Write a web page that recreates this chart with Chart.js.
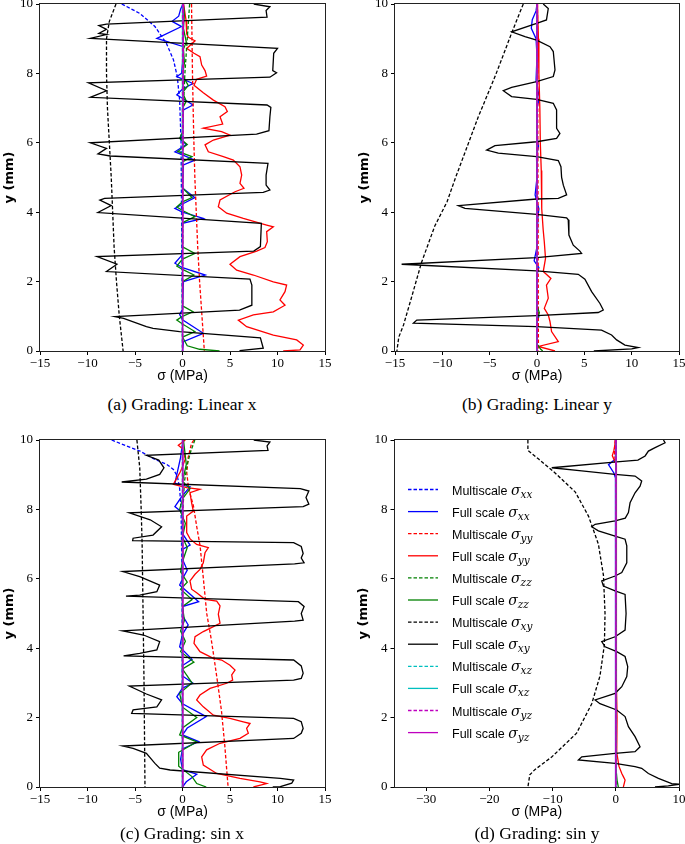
<!DOCTYPE html>
<html>
<head>
<meta charset="utf-8">
<script src="https://cdn.jsdelivr.net/npm/chart.js@4.4.0/dist/chart.umd.min.js"></script>
<style>
  html, body { margin: 0; padding: 0; background: #fff; }
  body { width: 685px; height: 844px; position: relative; overflow: hidden; }
  canvas { position: absolute; }
  .cap { position: absolute; width: 300px; text-align: center; white-space: nowrap;
         font-family: "Liberation Serif", serif; font-size: 17.5px; line-height: 20px; color: #000; }
</style>
</head>
<body>
<canvas id="panelA" width="340" height="390" style="left:0px;top:0px"></canvas>
<canvas id="panelB" width="340" height="390" style="left:345px;top:0px"></canvas>
<canvas id="panelC" width="340" height="406" style="left:0px;top:420px"></canvas>
<canvas id="panelD" width="340" height="406" style="left:345px;top:420px"></canvas>
<div class="cap" style="left:32px;top:394px">(a) Grading: Linear x</div>
<div class="cap" style="left:387px;top:394px">(b) Grading: Linear y</div>
<div class="cap" style="left:32px;top:823px">(c) Grading: sin x</div>
<div class="cap" style="left:387px;top:823px">(d) Grading: sin y</div>
<script>
  // tick values
  var yTicks = [0, 2, 4, 6, 8, 10];
  var xTicksLin = [-15, -10, -5, 0, 5, 10, 15];
  var xTicksSinY = [-30, -20, -10, 0, 10];

  // stress components, in plotting order
  var comps = ['xx', 'yy', 'zz', 'xy', 'xz', 'yz'];
  var compColors = ['#0000ff', '#ff0000', '#008000', '#000000', '#00bfbf', '#bf00bf'];

  // every point is [sigma (MPa), y (mm)]

  // (a) Grading: Linear x
  var aMultiXX = [[-6.4,10],[-4.5,9.73],[-2.9,9.35],[-1.7,8.87],[-0.95,8.39],[-0.55,7.91],[-0.3,7.23],[-0.15,6],[-0.1,4],[-0.05,2],[0,0]];
  var aFullXX = [[0.05,10],[-0.2,9.85],[-0.4,9.65],[-1.1,9.5],[-0.1,9.35],[-2.7,9.01],[0.1,8.77],[0,8.3],[-0.1,8],[-0.6,7.91],[1.1,7.71],[0,7.55],[-0.6,7.38],[-0.1,7.3],[1.1,7.09],[0.1,6.95],[0,6.3],[-0.2,6.1],[0.4,5.95],[-0.8,5.74],[0,5.65],[1.3,5.5],[0.1,5.36],[0,4.7],[1.3,4.42],[0.1,4.25],[-0.8,4.11],[0,4],[2.2,3.82],[0,3.68],[0,2.9],[-0.1,2.75],[-0.8,2.53],[0,2.4],[2.4,2.19],[0.1,2],[0,1.2],[-0.3,1.05],[0,0.9],[2.2,0.51],[0.1,0.27],[0,0]];
  var aMultiYY = [[0.95,10],[1,9],[1.05,8],[1.12,7],[1.2,6],[1.3,5],[1.45,4],[1.6,3],[1.8,2],[2.05,1],[2.3,0]];
  var aFullYY = [[0.1,10],[0.16,9.92],[0.37,9.54],[0.44,9.15],[0.61,9.04],[1.32,8.94],[0.44,8.72],[1.21,8.58],[1.84,8.48],[2.02,8.24],[2.37,8.08],[2.54,7.92],[1.49,7.83],[1.21,7.66],[2.19,7.44],[3.25,7.23],[4.47,7.04],[4.72,6.9],[3.95,6.75],[4.23,6.54],[2.19,6.42],[4.12,6.32],[5,6.22],[3.25,6.08],[2.37,5.94],[2.72,5.74],[4.3,5.6],[5.35,5.5],[6.05,5.31],[6.23,5.07],[6.05,4.83],[6.47,4.69],[5.53,4.59],[3.95,4.35],[3.77,4.16],[4.65,3.97],[6.4,3.82],[8.86,3.63],[9.56,3.58],[8.86,3.44],[8.93,3.15],[8.68,2.98],[7.81,2.88],[6.05,2.72],[5,2.5],[5.7,2.33],[7.46,2.19],[9.56,1.99],[10.96,1.9],[10.79,1.71],[10.26,1.47],[10.79,1.32],[9.56,1.13],[7.46,1.04],[5.88,0.89],[6.75,0.7],[9.56,0.46],[12.02,0.32],[12.72,0.17],[12.37,0.03],[10.6,0]];
  var aMultiZZ = [[0.75,10],[0.5,9],[0.25,8],[0.1,7],[0.03,6],[0,0]];
  var aFullZZ = [[0.1,10],[0.2,9.7],[0.1,9.3],[0.4,8.9],[0.1,8.7],[0.2,8.3],[0,7.95],[0.6,7.65],[0,7.45],[0.4,7.2],[0,7],[0,6.3],[-0.3,6.13],[0.5,5.95],[-0.5,5.75],[1,5.6],[0,5.45],[0,4.7],[1,4.42],[0,4.3],[-0.6,4.15],[0,4.05],[1.3,3.87],[0,3.7],[0,3],[1.3,2.81],[0,2.65],[-0.6,2.45],[0,2.35],[1.2,2.19],[0,2],[0,1.3],[1.1,1.13],[0,1],[-0.6,0.89],[0,0.78],[1.3,0.56],[0,0.4],[0.5,0.15],[1.8,0.05],[3.9,0]];
  var aMultiXY = [[-7,10],[-7.7,9.5],[-8,9],[-8,8],[-7.9,7],[-7.7,6],[-7.5,5],[-7.35,4],[-7.2,3],[-6.95,2],[-6.65,1],[-6.25,0]];
  var aFullXY = [[7.5,10],[9.2,9.92],[8.8,9.81],[8.9,9.62],[-8,9.42],[-8.8,9.38],[-8,9.27],[-8.8,9.15],[-8,9.12],[-9.7,9.01],[10,8.72],[9.6,8.58],[9.5,8.08],[9.9,8.02],[9.2,7.89],[-9.9,7.73],[-8,7.5],[-9.7,7.31],[8.9,7.09],[9.3,7.02],[9.2,6.75],[9.1,6.35],[7.8,6.25],[-9.7,6],[-8,5.84],[-8.9,5.68],[-7.6,5.62],[9,5.41],[8.8,5.07],[8.8,4.78],[9.2,4.64],[8.5,4.57],[-8.2,4.4],[-8.7,4.35],[-7.5,4.19],[-8.9,3.99],[8.3,3.68],[8.2,3.01],[7.5,2.88],[-9,2.72],[-6.9,2.5],[-8,2.29],[7.1,2.07],[7.3,1.9],[7.3,1.32],[6,1.18],[-7.1,0.99],[-6.2,0.94],[-3.8,0.7],[-3.1,0.65],[-0.3,0.56],[8.2,0.38],[8.5,0.08],[6,0.01]];
  var aMultiXZ = [[0,10],[0,0]];
  var aFullXZ = [[0,10],[0,0]];
  var aMultiYZ = [[0.02,10],[0,0]];
  var aFullYZ = [[0.1,10],[0.05,5],[0.02,0]];

  // (b) Grading: Linear y
  var bMultiXX = [[0,10],[0,0]];
  var bFullXX = [[0,10],[-0.1,9.8],[-0.5,9.55],[-0.6,9.3],[-0.1,9],[0,8.5],[-0.1,7.8],[0.25,7.3],[0,7],[0,6.2],[0.15,5.9],[-0.05,5.6],[0,5],[-0.2,4.5],[0.2,4.1],[0.1,3.85],[0,3],[-0.3,2.6],[0.2,2.4],[0,2.2],[0,1.2],[0.2,1],[0,0.8],[0,0]];
  var bMultiYY = [[0.05,10],[0.1,5],[0.15,0]];
  var bFullYY = [[0.05,10],[0.15,9],[0.2,8],[0.3,7],[0.35,6],[0.45,5.2],[0.5,4.5],[0.5,4.1],[0.65,3.5],[0.77,3.15],[0.9,2.67],[0.66,2.29],[1.47,2.09],[1,1.9],[1.19,1.52],[0.77,1.23],[1.19,1.04],[1.37,0.85],[1.54,0.56],[2.25,0.27],[0.14,0.13],[1.9,0]];
  var bMultiZZ = [[0,10],[0,0]];
  var bFullZZ = [[0,10],[0,1.3],[0.25,1.1],[0,0.9],[0,0.2],[0.4,0.05],[0.6,0]];
  var bMultiXY = [[-1.45,10],[-2.7,9.15],[-3.6,8.5],[-4.45,7.9],[-6.2,6.75],[-7.5,5.8],[-8.6,5],[-9.5,4.3],[-10.8,3.6],[-12.2,2.55],[-13.3,1.5],[-14.1,0.75],[-14.6,0.4],[-14.8,0]];
  var bFullXY = [[0.66,10],[1.19,9.87],[1,9.54],[-0.04,9.44],[-2.68,9.2],[-1.27,9.06],[-0.04,8.96],[1.37,8.77],[1.72,8.63],[1.9,8.1],[1.72,7.91],[-0.04,7.76],[-2.68,7.6],[-3.56,7.5],[-2.68,7.33],[-0.04,7.25],[1.72,7.14],[2.07,6.95],[2.07,6.42],[2.42,6.27],[2.07,6.13],[-0.04,6.03],[-4.44,5.92],[-5.32,5.79],[-4.09,5.7],[-0.04,5.6],[2.25,5.49],[2.53,5.31],[2.6,5],[2.78,4.78],[3.13,4.5],[2.25,4.4],[-0.04,4.38],[-8.31,4.19],[-7.61,4.11],[-0.04,3.94],[3.13,3.84],[3.3,3.78],[3.37,3.34],[3.83,3.05],[4.53,2.88],[4.71,2.81],[-0.04,2.69],[-14.3,2.5],[-0.04,2.31],[4.36,2.21],[5.06,2.07],[5.77,1.71],[6.65,1.37],[7,1.18],[6.47,1.11],[-0.04,1.02],[-12.7,0.89],[-13.06,0.8],[-0.04,0.7],[6.82,0.6],[7.88,0.46],[8.41,0.32],[9.29,0.17],[10.7,0.1],[10,0.06],[6,0]];
  var bMultiXZ = [[0,10],[0,0]];
  var bFullXZ = [[0,10],[0,0]];
  var bMultiYZ = [[0,10],[0,0]];
  var bFullYZ = [[0.02,10],[0,0]];

  // (c) Grading: sin x
  var cMultiXX = [[-7.46,10],[-5.88,9.83],[-4.47,9.68],[-2.9,9.44],[-1.67,9.3],[-0.96,9.15],[-0.54,8.96],[-0.3,8.6],[-0.15,8],[-0.05,6],[0,0]];
  var cFullXX = [[0.05,10],[-0.2,9.5],[-0.8,8.75],[0.8,8.65],[0,8.4],[-0.8,8.08],[0,7.9],[0,7.3],[0.8,6.97],[0,6.85],[0.1,6.5],[0.5,6.25],[0,6],[-0.3,5.82],[1.7,5.34],[0,5.2],[0.1,4.9],[0.6,4.67],[0,4.4],[-0.3,4.04],[1,3.68],[0,3.5],[0,3.2],[1.1,2.99],[0,2.85],[-0.6,2.6],[0,2.4],[2.5,2.03],[0.5,1.7],[0,1.5],[1.7,1.31],[0,1.1],[-0.2,0.8],[0,0.5],[1.5,0.37],[0.4,0.15],[0,0]];
  var cMultiYY = [[1.2,10],[0.95,9.9],[0.6,9.5],[0.45,9.05],[0.6,8.7],[0.8,8.45],[1.15,8.1],[1.5,7.5],[1.85,6.95],[2.2,6],[2.55,5],[3,4.3],[3.25,3.85],[3.7,3],[4.1,2.2],[4.45,1.2],[4.8,0]];
  var cFullYY = [[0.3,10],[-0.44,9.85],[0,9.75],[0.3,9.45],[-0.2,9.1],[-0.96,8.72],[0.44,8.63],[1.84,8.58],[0.79,8.48],[0.96,8.19],[1.14,7.95],[0.44,7.81],[0.44,7.33],[0.8,7.15],[1.49,6.99],[2.72,6.9],[2.37,6.75],[2.19,6.46],[1.84,6.27],[1.32,6.13],[0.79,5.94],[0.96,5.7],[1.49,5.6],[2.37,5.41],[3.6,5.36],[3.95,5.22],[3.77,4.98],[3.95,4.72],[3.25,4.62],[2.19,4.48],[1.32,4.33],[1.21,4.14],[1.84,3.9],[3.25,3.71],[4.12,3.66],[5,3.51],[5.53,3.37],[5.18,3.23],[5.28,3.08],[4.65,2.99],[2.9,2.84],[1.84,2.65],[1.49,2.51],[2.19,2.31],[3.25,2.07],[5,1.98],[6.4,1.88],[7.11,1.83],[6.75,1.69],[6.93,1.55],[6.05,1.4],[3.95,1.26],[2.54,1.07],[2.02,0.87],[2.19,0.63],[3.6,0.39],[6.05,0.25],[8.16,0.15],[8.86,0.1],[7.46,0]];
  var cMultiZZ = [[1.3,10],[0.9,9.7],[0.5,9.3],[0.2,8.8],[0.05,8],[0,6],[0,0]];
  var cFullZZ = [[0.1,10],[0.4,9.3],[0,8.8],[0.8,8.6],[0,8.3],[-0.3,8],[0.3,7.6],[0,7.2],[0.5,6.9],[0,6.5],[-0.2,6.2],[0.5,5.9],[-0.2,5.7],[1,5.4],[0,5.2],[0.2,4.8],[-0.2,4.5],[0.3,4.2],[-0.2,3.9],[1.2,3.6],[0,3.4],[1,3],[-0.3,2.7],[0,2.3],[1.5,2],[0,1.7],[-0.3,1.5],[1.5,1.3],[-0.4,1],[-0.4,0.6],[1,0.3],[1.5,0.1],[2.5,0]];
  var cMultiXY = [[-4.8,10],[-4.5,9.2],[-4.35,8],[-4.25,7],[-4.15,5],[-4.05,3],[-3.95,0]];
  var cFullXY = [[7.5,10],[9.2,9.94],[8.9,9.83],[9,9.7],[-3.8,9.56],[-2.5,9.42],[-1.95,9.2],[-2.4,9.01],[-3.8,8.87],[-6.4,8.79],[12.4,8.6],[13.3,8.53],[13,8.34],[13.3,8.15],[12.7,8.08],[-5.6,7.9],[-3.4,7.7],[-2.2,7.5],[-3.1,7.26],[-5.2,7.17],[-5.25,7.1],[11.7,7.04],[12.5,6.93],[12.7,6.73],[12.5,6.6],[12.8,6.46],[11.8,6.43],[-6.3,6.21],[-4.5,6.06],[-2.4,5.82],[-2.7,5.63],[-4.5,5.53],[-5.95,5.5],[12.2,5.34],[12.8,5.2],[12.5,5],[12.7,4.81],[11.8,4.78],[-6.3,4.5],[-4.1,4.38],[-2.4,4.19],[-2.7,3.95],[-4.5,3.85],[-6.2,3.78],[11.7,3.66],[12.5,3.49],[12.7,3.28],[12.5,3.13],[11.7,3.08],[-5.6,2.91],[-3.8,2.68],[-2.2,2.51],[-2.7,2.31],[-5.2,2.22],[-5.35,2.12],[11.7,1.98],[12.5,1.88],[12.7,1.69],[12.5,1.55],[11.7,1.4],[-6.3,1.18],[-5.2,1.11],[-3.8,0.97],[-2.9,0.68],[-2.4,0.54],[-1.3,0.49],[10.3,0.25],[11.7,0.2],[11.5,0.11],[10.3,0.01],[9.5,0]];
  var cMultiXZ = [[0,10],[0,0]];
  var cFullXZ = [[0,10],[0,0]];
  var cMultiYZ = [[0,10],[0,0]];
  var cFullYZ = [[0.05,10],[0.05,0]];

  // (d) Grading: sin y
  var dMultiXX = [[0,10],[0,0]];
  var dFullXX = [[0,10],[0,9.5],[-0.1,9.45],[-1.15,9.29],[-0.3,9.05],[-0.05,8.9],[0,8],[-0.1,7.6],[0,6.2],[-0.1,5.8],[0,4],[0,0]];
  var dMultiYY = [[-0.1,10],[-0.2,9.6],[0,9.3],[0,0]];
  var dFullYY = [[0,10],[-0.3,9.7],[-0.55,9.55],[-0.2,9.4],[0.05,9.3],[0.05,7],[0.1,5],[0.15,3],[0.2,2],[0.15,1],[0.5,0.6],[0.95,0.39],[1.2,0.3],[1.47,0.2],[1.2,0]];
  var dMultiZZ = [[0,10],[0,0]];
  var dFullZZ = [[0,10],[0,0.6],[0.2,0.2],[0.4,0]];
  var dMultiXY = [[-13.9,10],[-13.9,9.7],[-12.2,9.45],[-9.6,9.05],[-6.4,8.5],[-4.3,7.8],[-2.75,7],[-1.95,6.1],[-1.7,5],[-1.8,4.1],[-2.5,3.2],[-3.8,2.4],[-6.2,1.55],[-10.1,0.87],[-12.8,0.5],[-13.6,0.35],[-13.9,0]];
  var dFullXY = [[7.54,10],[7.8,9.92],[6.22,9.78],[5.16,9.68],[4.64,9.54],[3.5,9.42],[0.15,9.37],[-10.13,9.2],[-5.38,9.11],[-0.11,9.01],[3.05,8.96],[4.1,8.82],[3.84,8.67],[3.05,8.48],[2.26,8.19],[2,7.91],[1.5,7.75],[-0.11,7.67],[-3.27,7.57],[-3.8,7.5],[-2.75,7.38],[-0.11,7.23],[1.47,7.14],[1.74,6.95],[1.74,6.46],[0.95,6.18],[-0.11,6.08],[-2.22,5.94],[-1.96,5.79],[-0.11,5.65],[1.47,5.55],[1.63,5],[1.47,4.52],[-0.11,4.33],[-2.22,4.19],[-1.69,4.04],[0.15,3.9],[1.47,3.76],[1.89,3.47],[1.74,3.18],[0.95,2.89],[-0.11,2.7],[-3.27,2.51],[-2.5,2.4],[0.15,2.22],[1.47,2.03],[2,1.74],[3.05,1.45],[3.84,1.16],[3.05,1.02],[-0.11,0.97],[-5.38,0.87],[-5.91,0.78],[-0.11,0.68],[3.05,0.59],[4.1,0.54],[5.16,0.39],[6.74,0.25],[8.85,0.1],[10,0.08],[8.3,0.03],[6.2,0]];
  var dMultiXZ = [[0,10],[0,0]];
  var dFullXZ = [[0,10],[0,0]];
  var dMultiYZ = [[0,10],[0,0]];
  var dFullYZ = [[0.05,10],[0,0]];

  var panelA = [[aMultiXX, aFullXX], [aMultiYY, aFullYY], [aMultiZZ, aFullZZ], [aMultiXY, aFullXY], [aMultiXZ, aFullXZ], [aMultiYZ, aFullYZ]];
  var panelB = [[bMultiXX, bFullXX], [bMultiYY, bFullYY], [bMultiZZ, bFullZZ], [bMultiXY, bFullXY], [bMultiXZ, bFullXZ], [bMultiYZ, bFullYZ]];
  var panelC = [[cMultiXX, cFullXX], [cMultiYY, cFullYY], [cMultiZZ, cFullZZ], [cMultiXY, cFullXY], [cMultiXZ, cFullXZ], [cMultiYZ, cFullYZ]];
  var panelD = [[dMultiXX, dFullXX], [dMultiYY, dFullYY], [dMultiZZ, dFullZZ], [dMultiXY, dFullXY], [dMultiXZ, dFullXZ], [dMultiYZ, dFullYZ]];

  function toPoints(pts) {
    return pts.map(function (p) { return { x: p[0], y: p[1] }; });
  }

  function buildDatasets(panel) {
    var sets = [];
    panel.forEach(function (pair, i) {
      [0, 1].forEach(function (k) {
        var idx = sets.length;
        sets.push({
          label: (k === 0 ? 'Multiscale' : 'Full scale') + ' σ' + comps[i],
          kind: k === 0 ? 'Multiscale' : 'Full scale',
          comp: comps[i],
          data: toPoints(pair[k]),
          showLine: true,
          borderColor: compColors[i],
          backgroundColor: compColors[i],
          borderWidth: 1.3,
          borderDash: k === 0 ? [3.5, 2] : [],
          pointRadius: 0,
          pointHoverRadius: 0,
          tension: 0,
          fill: false,
          order: 11 - idx  // later series on top, like matplotlib
        });
      });
    });
    return sets;
  }

  // box around the axes
  var framePlugin = {
    id: 'frame',
    afterDatasetsDraw: function (chart) {
      var a = chart.chartArea, ctx = chart.ctx;
      var l = Math.round(a.left), t = Math.round(a.top);
      var r = Math.round(a.right), b = Math.round(a.bottom);
      ctx.save();
      ctx.strokeStyle = '#222';
      ctx.lineWidth = 1;
      ctx.strokeRect(l - 0.5, t - 0.5, r - l + 1, b - t + 1);
      ctx.restore();
    }
  };

  // legend drawn inside the axes of panel (d)
  var insetLegend = {
    id: 'insetLegend',
    afterDatasetsDraw: function (chart, args, opts) {
      if (!opts.show) return;
      var ctx = chart.ctx;
      chart.data.datasets.forEach(function (ds, i) {
        var y = opts.top + i * opts.rowGap;
        ctx.save();
        ctx.strokeStyle = ds.borderColor;
        ctx.lineWidth = ds.borderWidth;
        ctx.setLineDash(ds.borderDash);
        ctx.beginPath();
        ctx.moveTo(opts.lineX0, y);
        ctx.lineTo(opts.lineX1, y);
        ctx.stroke();
        ctx.setLineDash([]);
        ctx.fillStyle = '#000';
        ctx.textBaseline = 'alphabetic';
        var x = opts.textX, base = y + 5;
        ctx.font = '12.5px "Liberation Sans"';
        ctx.fillText(ds.kind + ' ', x, base);
        x += ctx.measureText(ds.kind + ' ').width;
        ctx.font = 'italic 14px "DejaVu Serif"';
        ctx.fillText('σ', x, base);
        x += ctx.measureText('σ').width;
        ctx.font = 'italic 10.5px "DejaVu Serif"';
        ctx.fillText(ds.comp, x, base + 3);
        ctx.restore();
      });
    }
  };

  function minusLabel(v) {
    return v < 0 ? '\u2212' + Math.abs(v) : String(v);
  }

  var tickFont = { family: 'Liberation Serif', size: 13 };

  function makeChart(id, panel, cfg) {
    return new Chart(document.getElementById(id), {
      type: 'scatter',
      data: { datasets: buildDatasets(panel) },
      plugins: [framePlugin, insetLegend],
      options: {
        responsive: false,
        animation: false,
        devicePixelRatio: 1,
        layout: { padding: cfg.pad },
        plugins: {
          legend: { display: false },
          tooltip: { enabled: false },
          insetLegend: { show: !!cfg.legend, top: 69.5, rowGap: 22.1, lineX0: 63, lineX1: 93, textX: 107 }
        },
        scales: {
          x: {
            type: 'linear',
            position: 'bottom',
            min: cfg.xMin,
            max: cfg.xMax,
            afterBuildTicks: function (s) { s.ticks = cfg.xTicks.map(function (v) { return { value: v }; }); },
            afterFit: function (s) { s.height = 39; s.paddingLeft = 0; s.paddingRight = 0; },
            grid: { drawOnChartArea: false, drawTicks: true, tickLength: 4, color: '#000' },
            border: { display: false },
            ticks: { font: tickFont, color: '#000', padding: 1, maxRotation: 0, autoSkip: false, callback: minusLabel },
            title: { display: true, text: 'σ (MPa)', color: '#000',
                     font: { family: 'Liberation Sans', size: 14 }, padding: { top: 0, bottom: 5.6 } }
          },
          y: {
            type: 'linear',
            position: 'left',
            min: 0,
            max: 10,
            afterBuildTicks: function (s) { s.ticks = yTicks.map(function (v) { return { value: v }; }); },
            afterFit: function (s) { s.width = cfg.yW; s.paddingTop = 0; s.paddingBottom = 0; },
            grid: { drawOnChartArea: false, drawTicks: true, tickLength: 4, color: '#000' },
            border: { display: false },
            ticks: { font: tickFont, color: '#000', padding: 3, autoSkip: false, callback: minusLabel },
            title: { display: true, text: 'y (mm)', color: '#000',
                     font: { family: 'DejaVu Sans', size: 13, weight: 'bold' }, padding: { top: cfg.yTitlePad, bottom: 0 } }
          }
        }
      }
    });
  }

  makeChart('panelA', panelA, { pad: { top: 4, right: 15, bottom: 0, left: 0 }, yW: 40, yTitlePad: 2.2, xMin: -15, xMax: 15, xTicks: xTicksLin });
  makeChart('panelB', panelB, { pad: { top: 4, right: 6, bottom: 0, left: 0 }, yW: 50, yTitlePad: 12.2, xMin: -15, xMax: 15, xTicks: xTicksLin });
  makeChart('panelC', panelC, { pad: { top: 20, right: 15, bottom: 0, left: 0 }, yW: 40, yTitlePad: 2.2, xMin: -15, xMax: 15, xTicks: xTicksLin });
  makeChart('panelD', panelD, { pad: { top: 20, right: 6, bottom: 0, left: 0 }, yW: 49.5, yTitlePad: 11.2, xMin: -35, xMax: 10, xTicks: xTicksSinY, legend: true });
</script>
</body>
</html>
